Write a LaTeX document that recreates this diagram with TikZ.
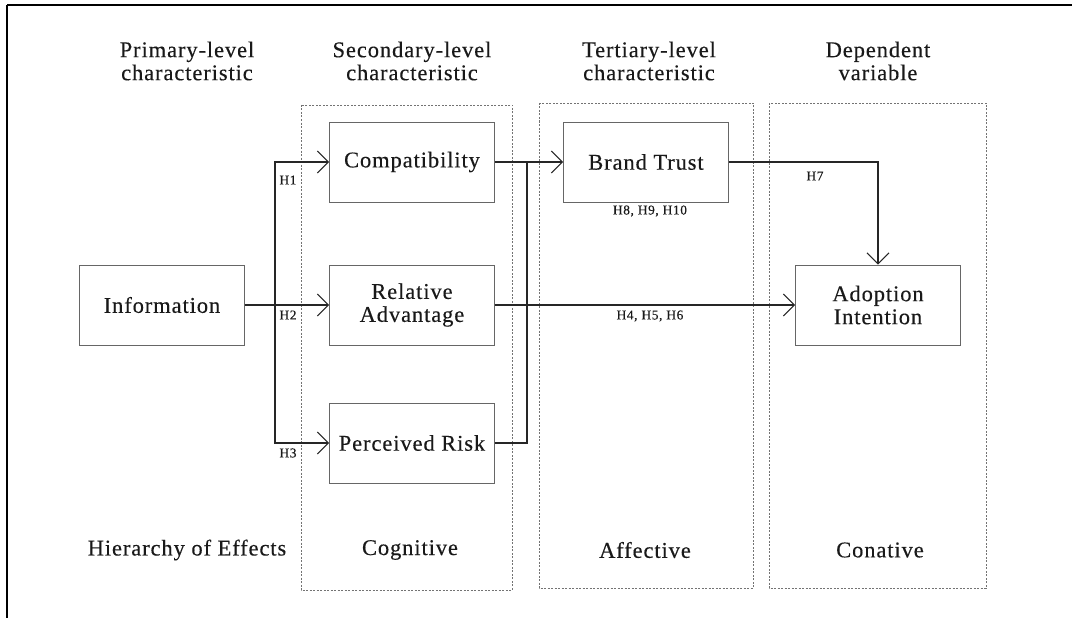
\documentclass[tikz,border=0pt]{standalone}
\usepackage{fontspec}
\setmainfont{Liberation Serif}[LetterSpace=4, FakeBold=0.3]
\usetikzlibrary{arrows.meta}
\definecolor{boxgray}{gray}{0.4}
\definecolor{dashgray}{gray}{0.45}
\tikzset{
  x=1pt, y=-1pt,
  lbl/.style={font=\fontsize{22.5}{23}\selectfont, align=center, text=black!90},
  hlbl/.style={font=\fontsize{13.5}{14}\selectfont, text=black!90, inner sep=0pt},
  cbox/.style={draw=boxgray, line width=0.9pt, minimum width=165pt, minimum height=80pt, inner sep=0pt, lbl},
  group/.style={draw=dashgray, line width=0.7pt, dash pattern=on 2pt off 1.5pt},
  conn/.style={draw=black!85, line width=1.2pt},
  arr/.style={conn, -{Straight Barb[length=11pt, width=22pt, line width=1pt]}},
}
\begin{document}
\begin{tikzpicture}
\useasboundingbox (0,0) rectangle (1072,618);
% frame
\draw[line width=2pt] (7,5) -- (1072,5);
\draw[line width=2pt] (7,5) -- (7,618);
% dashed groups
\draw[group] (301,105) rectangle (512,590);
\draw[group] (539,103) rectangle (753,588);
\draw[group] (769,103) rectangle (986,588);
% headers
\node[lbl] (h1) at (187,61) {Primary-level\\characteristic};
\node[lbl] (h2) at (412,61) {Secondary-level\\characteristic};
\node[lbl] (h3) at (649,61) {Tertiary-level\\characteristic};
\node[lbl] (h4) at (878,61) {Dependent\\variable};
% footers
\node[lbl] (f1) at (187,550) {Hierarchy of Effects};
\node[lbl] (f2) at (410,550) {Cognitive};
\node[lbl] (f3) at (645,550) {Affective};
\node[lbl] (f4) at (880,550) {Conative};
% boxes
\node[cbox] (info) at (162,305) {Information};
\node[cbox] (comp) at (412,162) {Compatibility};
\node[cbox] (ra) at (412,305) {Relative\\Advantage};
\node[cbox] (pr) at (412,443) {Perceived Risk};
\node[cbox] (bt) at (646,162) {Brand Trust};
\node[cbox] (ai) at (878,305) {Adoption\\Intention};
% connectors
\coordinate (j1) at (275,305);
\coordinate (j2) at (527,162);
\draw[arr] (info.east) -- (ra.west);
\draw[arr] (j1) |- (comp.west);
\draw[arr] (j1) |- (pr.west);
\draw[arr] (comp.east) -- (bt.west);
\draw[conn] (pr.east) -| (j2);
\draw[arr] (ra.east) -- (ai.west);
\draw[arr] (bt.east) -| (ai.north);
% hypothesis labels
\node[hlbl] (l1) at (288,180) {H1};
\node[hlbl] (l2) at (288,315) {H2};
\node[hlbl] (l3) at (288,453) {H3};
\node[hlbl] (l7) at (815,176) {H7};
\node[hlbl] (l8) at (650,211) {H8, H9, H10};
\node[hlbl] (l4) at (650,316) {H4, H5, H6};
\end{tikzpicture}
\end{document}
